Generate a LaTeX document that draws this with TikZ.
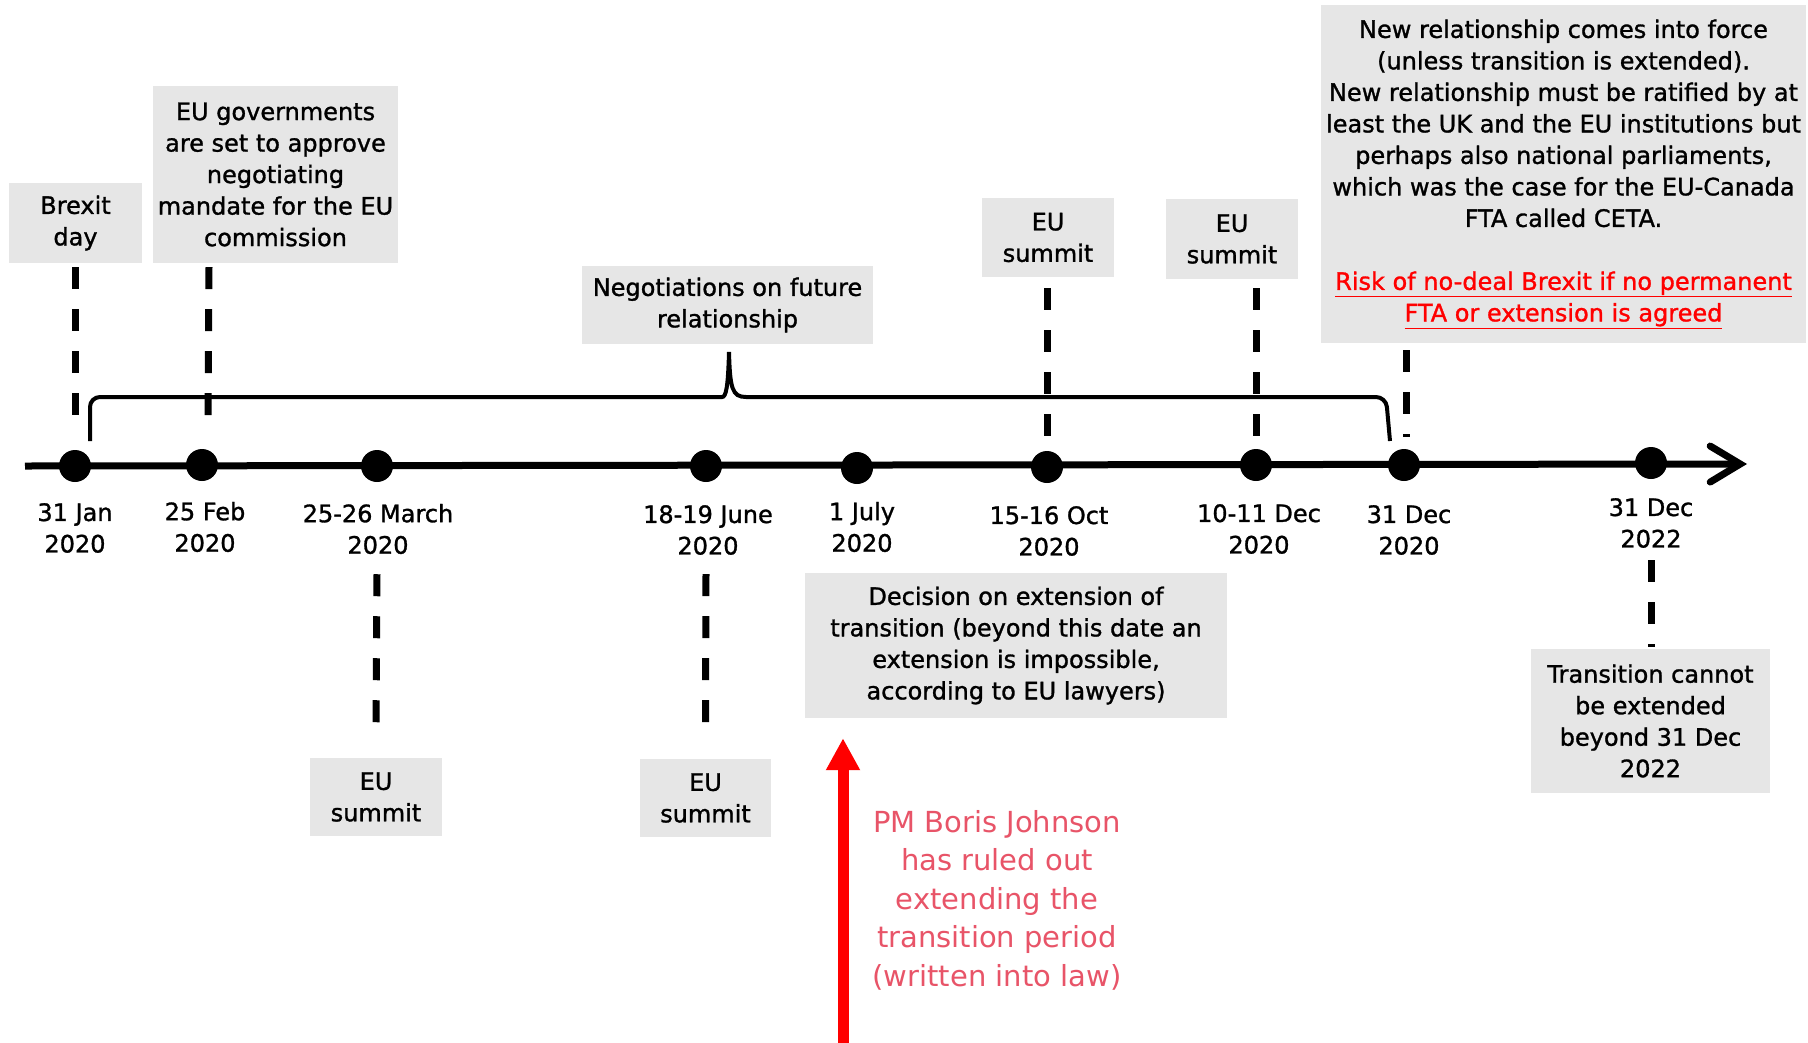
\documentclass[tikz,border=0pt]{standalone}
\usepackage{fontspec}
\setmainfont{DejaVu Sans}[UprightFeatures={FakeBold=1.2}]
\newfontfamily\notefont{DejaVu Sans}
\usetikzlibrary{arrows.meta,calc}
\definecolor{boxgray}{RGB}{230,230,230}
\definecolor{pmred}{RGB}{232,84,104}
\definecolor{pured}{RGB}{255,0,0}
\begin{document}
\begin{tikzpicture}[x=1pt,y=-1pt,
  txt/.style={font=\fontsize{24}{31.5}\selectfont,align=center,inner sep=0pt,text=black},
  gbox/.style={txt,fill=boxgray,rectangle},
  dot/.style={circle,fill=black,inner sep=0pt,minimum size=32pt},
  dashline/.style={line width=7pt,dash pattern=on 22pt off 20pt},
  tline/.style={line width=7pt},
  brace/.style={line width=4pt,rounded corners=10pt},
  redarrow/.style={line width=11pt,draw=pured,-{Triangle[length=32pt,width=32pt]}},
]
\useasboundingbox (0,0) rectangle (1808,1042);
\fill[white] (0,0) rectangle (1808,1042);

% timeline
\coordinate (tlstart) at (25,466);
\coordinate (tlend) at (1747,464);
\draw[tline,-{Straight Barb[length=30pt,width=36pt,line cap=round]}] (tlstart) -- (tlend);

% dots
\node[dot] (d1) at (75,466) {};
\node[dot] (d2) at (202,465) {};
\node[dot] (d3) at (377,466) {};
\node[dot] (d4) at (706,466) {};
\node[dot] (d5) at (857,468) {};
\node[dot] (d6) at (1047,467) {};
\node[dot] (d7) at (1256,465) {};
\node[dot] (d8) at (1404,465) {};
\node[dot] (d9) at (1651,463) {};

% date labels
\node[txt] (l1) at (75,528) {31 Jan\\2020};
\node[txt] (l2) at (205,527) {25 Feb\\2020};
\node[txt] (l3) at (378,529) {25-26 March\\2020};
\node[txt] (l4) at (708,530) {18-19 June\\2020};
\node[txt] (l5) at (862,527) {1 July\\2020};
\node[txt] (l6) at (1049,531) {15-16 Oct\\2020};
\node[txt] (l7) at (1259,529) {10-11 Dec\\2020};
\node[txt] (l8) at (1409,530) {31 Dec\\2020};
\node[txt] (l9) at (1651,523) {31 Dec\\2022};

% boxes
\node[gbox,minimum width=133pt,minimum height=80pt] (brexit) at (75.5,223) {Brexit\\day};
\node[gbox,minimum width=245pt,minimum height=177pt] (egov) at (275.5,174.5) {EU governments\\are set to approve\\negotiating\\mandate for the EU\\commission};
\node[gbox,minimum width=291pt,minimum height=78pt] (nego) at (727.5,305) {Negotiations on future\\relationship};
\node[gbox,minimum width=132pt,minimum height=79pt] (sumoct) at (1048,237.5) {EU\\summit};
\node[gbox,minimum width=132pt,minimum height=80pt] (sumdec) at (1232,239) {EU\\summit};
\node[gbox,minimum width=485pt,minimum height=338pt] (newrel) at (1563.5,174) {New relationship comes into force\\(unless transition is extended).\\New relationship must be ratified by at\\least the UK and the EU institutions but\\perhaps also national parliaments,\\which was the case for the EU-Canada\\FTA called CETA.\\[31.5pt]\textcolor{pured}{\underline{Risk of no-deal Brexit if no permanent}}\\\textcolor{pured}{\underline{FTA or extension is agreed}}};
\node[gbox,minimum width=132pt,minimum height=78pt] (summar) at (376,797) {EU\\summit};
\node[gbox,minimum width=131pt,minimum height=78pt] (sumjun) at (705.5,798) {EU\\summit};
\node[gbox,minimum width=422pt,minimum height=145pt] (decision) at (1016,645.5) {Decision on extension of\\transition (beyond this date an\\extension is impossible,\\according to EU lawyers)};
\node[gbox,minimum width=239pt,minimum height=144pt] (transbox) at (1650.5,721) {Transition cannot\\be extended\\beyond 31 Dec\\2022};

% red note
\node[font=\notefont\fontsize{29}{38.5}\selectfont,align=center,inner sep=0pt,text=pmred] (pmnote) at (997,900) {PM Boris Johnson\\has ruled out\\extending the\\transition period\\(written into law)};
\coordinate (redbot) at (843,1046);
\draw[redarrow] (redbot) -- ($(decision.south -| redbot)+(0,20)$);

% dashed connectors
\draw[dashline] ($(brexit.south -| d1)+(0,4)$) -- ($(d1.north)+(0,-33)$);
\draw[dashline] ($(egov.south -| d2)+(7,4)$) -- ($(d2.north)+(6,-32)$);
\draw[dashline] ($(sumoct.south -| d6)+(0,11)$) -- ($(d6.north)+(0,-11)$);
\draw[dashline] ($(sumdec.south -| d7)+(0,9)$) -- ($(d7.north)+(0,-12)$);
\draw[dashline] ($(newrel.south -| d8)+(2,7)$) -- ($(d8.north)+(2,-12)$);
\draw[dashline] ($(l3.south -| d3)+(0,20)$) -- ($(summar.north)+(0,-34)$);
\draw[dashline] ($(l4.south -| d4)+(0,19)$) -- ($(sumjun.north)+(0,-35)$);
\draw[dashline] ($(l9.south -| d9)+(0,12)$) -- ($(transbox.north -| d9)+(0,-2)$);

% brace over negotiation period
\coordinate (brL) at (90,441);
\coordinate (brR) at (1390,441);
\draw[brace] (brL) -- (90,397) -- (712,397)
  [rounded corners=0pt] .. controls (726,397) and (728,388) .. (729,352)
  .. controls (730,388) and (732,397) .. (746,397)
  [rounded corners=10pt] -- (1386,397) -- (brR);
\end{tikzpicture}
\end{document}
